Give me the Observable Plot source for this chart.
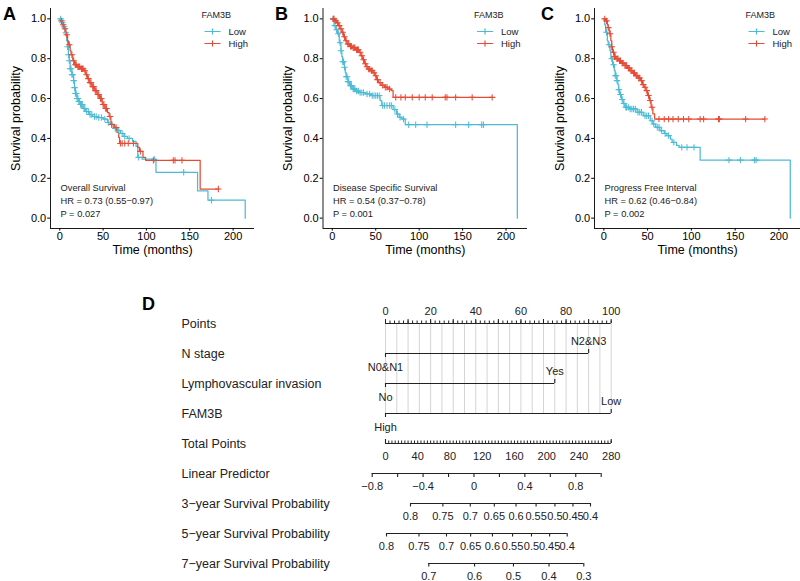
<!DOCTYPE html>
<html><head><meta charset="utf-8">
<script src="https://cdn.jsdelivr.net/npm/d3@7"></script>
<script src="https://cdn.jsdelivr.net/npm/@observablehq/plot@0.6"></script>
<style>
body{margin:0;background:#fff;}
#root{position:relative;width:800px;height:581px;overflow:hidden;background:#fff;font-family:"Liberation Sans",Arial,Helvetica,sans-serif;}
.letter{position:absolute;font-weight:bold;font-size:18px;line-height:18px;color:#000;}
</style></head><body><div id="root"></div>
<script>
// ---------------- DATA ----------------
const groups = ["Low", "High"];
const xTicks = [0, 50, 100, 150, 200];
const yTicks = [0, 0.2, 0.4, 0.6, 0.8, 1.0];

// Panel A - Overall Survival
const osLowTime = [0,2,4,6,8,9,10,11,12,14,16,17,18,20,22,24,27,30,34,38,44,50,55,58,62,66,70,74,78,84,88,90,95,111,159,171,214];
const osLowSurv = [1.0,0.98,0.96,0.93,0.89,0.86,0.82,0.79,0.75,0.72,0.69,0.655,0.625,0.60,0.585,0.57,0.55,0.535,0.52,0.51,0.505,0.497,0.48,0.47,0.45,0.44,0.425,0.41,0.40,0.385,0.36,0.305,0.296,0.23,0.137,0.09,0.0];
const osLowCensor = [1,3,5,7,9,10,11,12,13,14,15,16,17,18,19,20,21,22,23,24,25,26,28,29,31,33,35,37,40,42,45,48,52,56,60,64,68,72,75,80,91,109,143,175];
const osHighTime = [0,1,3,5,7,9,10,12,13,15,17,20,24,28,30,32,34,37,40,43,46,49,52,55,57,59,63,66,68,69,90,92,96,99,162,183];
const osHighSurv = [1.0,0.99,0.97,0.95,0.92,0.89,0.87,0.84,0.82,0.79,0.77,0.76,0.75,0.74,0.72,0.70,0.68,0.66,0.64,0.62,0.60,0.57,0.55,0.53,0.51,0.47,0.455,0.43,0.405,0.375,0.355,0.335,0.305,0.29,0.146,0.146];
const osHighCensor = [2,4,6,8,11,14,16,18,19,21,22,23,25,26,27,29,31,33,35,36,38,39,41,42,44,45,47,48,50,51,53,54,58,60,65,70,72,75,79,85,93,108,131,133,141,183];

// Panel B - Disease Specific Survival
const dssLowTime = [0,2,4,6,8,10,11,12,14,15,16,18,20,23,27,31,38,45,55,57,70,74,77,80,84,213];
const dssLowSurv = [1.0,0.966,0.945,0.925,0.88,0.84,0.81,0.785,0.757,0.73,0.71,0.685,0.665,0.648,0.638,0.63,0.623,0.615,0.59,0.565,0.545,0.523,0.506,0.497,0.469,0.0];
const dssLowCensor = [1,3,5,7,9,10,12,13,14,16,17,18,19,21,22,24,25,26,28,30,32,34,36,40,43,46,48,50,52,54,58,60,63,66,68,72,75,78,82,88,96,109,142,157,172,174];
const dssHighTime = [0,3,5,7,9,11,13,15,17,20,23,27,31,33,35,37,39,41,44,47,49,51,53,56,60,64,68,70,184];
const dssHighSurv = [1.0,0.99,0.98,0.966,0.95,0.933,0.91,0.89,0.874,0.862,0.855,0.845,0.832,0.815,0.795,0.775,0.76,0.748,0.74,0.73,0.715,0.695,0.68,0.667,0.657,0.648,0.64,0.606,0.606];
const dssHighCensor = [1,2,4,6,8,10,12,14,16,18,19,21,22,24,25,26,28,29,30,32,34,36,38,40,42,43,45,46,48,50,52,55,58,61,63,66,73,79,84,92,100,107,115,130,132,142,161,184];

// Panel C - Progress Free Interval
const pfiLowTime = [0,1,2,4,5,7,8,10,12,13,15,16,17,18,20,22,24,30,38,45,53,56,59,64,69,72,76,78,83,86,110,213];
const pfiLowSurv = [1.0,0.97,0.933,0.89,0.87,0.84,0.80,0.77,0.74,0.715,0.69,0.67,0.645,0.62,0.595,0.575,0.556,0.548,0.531,0.514,0.489,0.472,0.456,0.439,0.425,0.414,0.397,0.38,0.365,0.355,0.291,0.0];
const pfiLowCensor = [3,6,9,11,13,14,15,17,19,21,23,25,26,28,30,32,34,36,39,41,43,47,49,51,55,57,61,63,66,70,74,80,89,95,103,143,156,172,174];
const pfiHighTime = [0,2,4,5,6,7,8,9,10,12,14,17,20,23,27,30,33,36,39,42,44,46,48,50,52,54,56,58,184];
const pfiHighSurv = [1.0,0.99,0.97,0.956,0.94,0.925,0.89,0.86,0.832,0.81,0.80,0.79,0.778,0.766,0.753,0.74,0.728,0.715,0.703,0.69,0.67,0.657,0.64,0.615,0.59,0.556,0.523,0.497,0.497];
const pfiHighCensor = [1,3,5,7,9,11,12,13,15,16,18,19,21,22,24,25,26,28,29,31,32,34,35,37,38,40,41,43,45,47,49,51,53,55,63,69,74,79,85,91,97,110,114,131,132,162,184];

const panelTitles = ["Overall Survival", "Disease Specific Survival", "Progress Free Interval"];
const panelHR = ["HR = 0.73 (0.55\u22120.97)", "HR = 0.54 (0.37\u22120.78)", "HR = 0.62 (0.46\u22120.84)"];
const panelP = ["P = 0.027", "P = 0.001", "P = 0.002"];

// Nomogram
const nomoRows = ["Points", "N stage", "Lymphovascular invasion", "FAM3B"];
const scoreRows = ["Total Points", "Linear Predictor", "3\u2212year Survival Probability", "5\u2212year Survival Probability", "7\u2212year Survival Probability"];
const nomoVars = ["N stage", "Lymphovascular invasion", "FAM3B"];
const nomoLevelZero = ["N0&N1", "No", "High"];
const nomoLevelTop = ["N2&N3", "Yes", "Low"];
const nomoPointsTop = [90, 75, 100];
const pointsLabels = [0, 20, 40, 60, 80, 100];
const totalLabels = [0, 40, 80, 120, 160, 200, 240, 280];
const lpTicks = [-0.8, -0.6, -0.4, -0.2, 0, 0.2, 0.4, 0.6, 0.8, 1.0];
const lpLabels = [-0.8, -0.4, 0, 0.4, 0.8];
const lpLabelText = ["\u22120.8", "\u22120.4", "0", "0.4", "0.8"];
const surv3Ticks = [0.8, 0.75, 0.7, 0.65, 0.6, 0.55, 0.5, 0.45, 0.4];
const surv5Ticks = [0.8, 0.75, 0.7, 0.65, 0.6, 0.55, 0.5, 0.45, 0.4];
const surv7Ticks = [0.7, 0.6, 0.5, 0.4, 0.3];

// ---------------- RENDER ----------------
const FONT = '"Liberation Sans", Arial, Helvetica, sans-serif';
const colors = ["#4DBBD5", "#E64B35"];
const root = document.getElementById("root");
function place(el, left, top, w) {
  const d = document.createElement("div");
  d.style.cssText = `position:absolute;left:${left}px;top:${top}px;width:${w}px;`;
  d.appendChild(el);
  root.appendChild(d);
}
function letter(t, left, top) {
  const d = document.createElement("div");
  d.className = "letter";
  d.style.left = left + "px"; d.style.top = top + "px";
  d.textContent = t;
  root.appendChild(d);
}
function stepAt(times, survs, t) {
  const i = d3.bisectRight(times, t) - 1;
  return survs[Math.max(0, i)];
}
const plusSym = {draw(ctx) { const r = 3.2; ctx.moveTo(-r, 0); ctx.lineTo(r, 0); ctx.moveTo(0, -r); ctx.lineTo(0, r); }};
const legendSym = {draw(ctx) { ctx.moveTo(-8, 0); ctx.lineTo(8, 0); ctx.moveTo(0, -3); ctx.lineTo(0, 3); }};

function kmPanel(idx, series, width, marginLeft, marginRight) {
  const xDomain = [-10.7, 224.7];
  const yDomain = [-0.052, 1.052];
  const lineData = series.flatMap(s => s.time.map((t, i) => ({group: s.group, t, s: s.surv[i]})));
  const censorData = series.flatMap(s => s.censor.map(t => ({group: s.group, t, s: stepAt(s.time, s.surv, t)})));
  const note = {frameAnchor: "bottom-left", dx: 10, textAnchor: "start", lineAnchor: "middle", fontSize: 9.3, fill: "#222"};
  const leg = {frameAnchor: "top-left", textAnchor: "start", lineAnchor: "middle", fill: "#222"};
  const marks = [
    Plot.ruleX([xDomain[0]], {stroke: "#000", strokeWidth: 0.9}),
    Plot.ruleY([yDomain[0]], {stroke: "#000", strokeWidth: 0.9}),
    Plot.line(lineData, {x: "t", y: "s", z: "group", stroke: "group", curve: "step-after", strokeWidth: 1.25}),
    Plot.dot(censorData, {x: "t", y: "s", stroke: "group", symbol: plusSym, fill: "none", strokeWidth: 1.05}),
    Plot.text([panelTitles[idx]], {...note, text: d => d, dy: -40}),
    Plot.text([panelHR[idx]], {...note, text: d => d, dy: -27}),
    Plot.text([panelP[idx]], {...note, text: d => d, dy: -14.5}),
    Plot.text(["Time (months)"], {text: d => d, frameAnchor: "bottom", textAnchor: "middle", lineAnchor: "middle", dy: 21.5, fontSize: 12.5, fill: "#000"}),
    Plot.text(["Survival probability"], {text: d => d, frameAnchor: "left", textAnchor: "middle", lineAnchor: "middle", dx: -35, rotate: -90, fontSize: 12.5, fill: "#000"}),
    Plot.text(["FAM3B"], {...leg, text: d => d, dx: 151, dy: 7, fontSize: 9})
  ];
  groups.forEach((g, i) => {
    marks.push(Plot.dot([g], {frameAnchor: "top-left", dx: 162, dy: 23 + 12 * i, symbol: legendSym, fill: "none", stroke: colors[i], strokeWidth: 1.2}));
    marks.push(Plot.text([g], {...leg, text: d => d, dx: 178, dy: 23 + 12 * i, fontSize: 9.5}));
  });
  return Plot.plot({
    width, height: 250, marginLeft, marginRight, marginTop: 8, marginBottom: 22,
    style: {background: "none", fontFamily: FONT, fontSize: "11px", color: "#000", overflow: "visible"},
    x: {domain: xDomain, ticks: xTicks, tickSize: 2.6, tickPadding: 0.8, label: null},
    y: {domain: yDomain, ticks: yTicks, tickSize: 2.8, tickPadding: 1.5, tickFormat: d => d.toFixed(1), label: null},
    color: {domain: groups, range: colors},
    marks
  });
}

place(kmPanel(0, [
  {group: "Low", time: osLowTime, surv: osLowSurv, censor: osLowCensor},
  {group: "High", time: osHighTime, surv: osHighSurv, censor: osHighCensor}
], 265, 50, 11), 0, 0, 265);
place(kmPanel(1, [
  {group: "Low", time: dssLowTime, surv: dssLowSurv, censor: dssLowCensor},
  {group: "High", time: dssHighTime, surv: dssHighSurv, censor: dssHighCensor}
], 265, 57.5, 3), 265, 0, 265);
place(kmPanel(2, [
  {group: "Low", time: pfiLowTime, surv: pfiLowSurv, censor: pfiLowCensor},
  {group: "High", time: pfiHighTime, surv: pfiHighSurv, censor: pfiHighCensor}
], 270, 64, 0), 530, 0, 270);

letter("A", 3, 5); letter("B", 275, 5); letter("C", 541, 5); letter("D", 142, 295);

// Nomogram: every row shares one point scale for its vertical position
const INK = "#222";
const TICKFONT = 11;
const allRows = [...nomoRows, ...scoreRows];
const NOMO_TOP = 295, NOMO_H = 290;
const yRows = {type: "point", domain: allRows, range: [27.7, 27.7 + 30 * (allRows.length - 1)], padding: 0, axis: null};
const nomoStyle = {background: "none", fontFamily: FONT, color: INK, overflow: "visible"};

const pointsTop = Plot.plot({
  width: 800, height: NOMO_H, margin: 0, style: nomoStyle,
  x: {domain: [0, 100], range: [385, 610.7], axis: null},
  y: yRows,
  marks: [
    Plot.ruleX(d3.range(0, 101, 5), {x: d => d, y1: () => nomoRows[0], y2: () => nomoRows[3], stroke: "#d5d5d5", strokeWidth: 1}),
    Plot.ruleY([nomoRows[0]], {y: d => d, x1: () => 0, x2: () => 100, stroke: INK}),
    Plot.ruleX(d3.range(0, 101, 2), {x: d => d, y1: () => nomoRows[0], y2: () => nomoRows[0], insetTop: -2.5, stroke: INK}),
    Plot.ruleX(d3.range(0, 101, 10), {x: d => d, y1: () => nomoRows[0], y2: () => nomoRows[0], insetTop: -4, stroke: INK}),
    Plot.text(pointsLabels, {x: d => d, y: () => nomoRows[0], dy: -12.5, text: d => String(d), fontSize: TICKFONT}),
    Plot.ruleY(nomoVars, {y: d => d, x1: () => 0, x2: (d, i) => nomoPointsTop[i], stroke: INK, strokeWidth: 1.1}),
    Plot.ruleX(nomoVars, {x: () => 0, y1: d => d, y2: d => d, insetBottom: -4, stroke: INK, strokeWidth: 1.1}),
    Plot.ruleX(nomoVars, {x: (d, i) => nomoPointsTop[i], y1: d => d, y2: d => d, insetTop: -4, stroke: INK, strokeWidth: 1.1}),
    Plot.text(nomoVars, {x: () => 0, y: d => d, dy: 14, text: (d, i) => nomoLevelZero[i], fontSize: TICKFONT}),
    Plot.text(nomoVars, {x: (d, i) => nomoPointsTop[i], y: d => d, dy: -12, text: (d, i) => nomoLevelTop[i], fontSize: TICKFONT}),
    Plot.text(nomoRows, {text: d => d, y: d => d, frameAnchor: "left", dx: 181, textAnchor: "start", lineAnchor: "middle", fontSize: 12.5})
  ]
});
place(pointsTop, 0, NOMO_TOP, 800);

function rowPlot(label, xOpts, ticks, tickUp, tickLen, labelVals, labelTexts, minor, minorLen) {
  const inset = len => tickUp ? {insetTop: -len} : {insetBottom: -len};
  const marks = [
    Plot.text([label], {text: d => d, y: d => d, frameAnchor: "left", dx: 181, textAnchor: "start", lineAnchor: "middle", fontSize: 12.5}),
    Plot.ruleY([label], {y: d => d, x1: () => ticks[0], x2: () => ticks[ticks.length - 1], stroke: INK, strokeWidth: 1.1})
  ];
  if (minor) marks.push(Plot.ruleX(minor, {x: d => d, y1: () => label, y2: () => label, ...inset(minorLen), stroke: INK}));
  marks.push(Plot.ruleX(ticks, {x: d => d, y1: () => label, y2: () => label, ...inset(tickLen), stroke: INK, strokeWidth: 1.1}));
  marks.push(Plot.text(labelVals, {x: d => d, y: () => label, dy: 12.8, text: (d, i) => labelTexts[i], fontSize: TICKFONT}));
  const p = Plot.plot({
    width: 800, height: NOMO_H, margin: 0, style: nomoStyle,
    x: {...xOpts, axis: null},
    y: yRows,
    marks
  });
  place(p, 0, NOMO_TOP, 800);
}
const cloglog = p => Math.log(-Math.log(p));
const probScale = (ticks, range) => ({type: "linear", transform: cloglog, domain: [cloglog(ticks[0]), cloglog(ticks[ticks.length - 1])], range});

rowPlot(scoreRows[0], {domain: [0, 280], range: [385, 610.7]},
  [0, 280], true, 4, totalLabels, totalLabels.map(String), d3.range(0, 281, 4), 2.5);
rowPlot(scoreRows[1], {domain: [-0.8, 1.0], range: [371.7, 600.7]},
  lpTicks, false, 4, lpLabels, lpLabelText);
rowPlot(scoreRows[2], probScale(surv3Ticks, [410, 590]),
  surv3Ticks, false, 3.5, surv3Ticks, surv3Ticks.map(String));
rowPlot(scoreRows[3], probScale(surv5Ticks, [386, 566.7]),
  surv5Ticks, false, 3.5, surv5Ticks, surv5Ticks.map(String));
rowPlot(scoreRows[4], probScale(surv7Ticks, [428.3, 583.3]),
  surv7Ticks, false, 3.5, surv7Ticks, surv7Ticks.map(String));
</script>
</body></html>
